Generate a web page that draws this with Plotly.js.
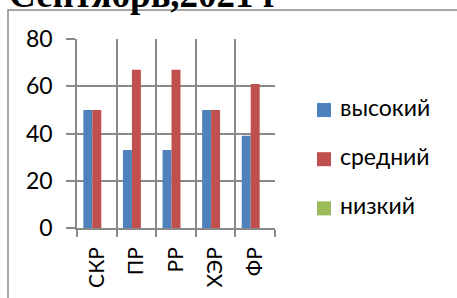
<!DOCTYPE html>
<html>
<head>
<meta charset="utf-8">
<script src="https://cdn.plot.ly/plotly-3.0.1.min.js"></script>
<style>html,body{margin:0;padding:0;background:#fff;}#chart{width:457px;height:298px;}</style>
</head>
<body>
<div id="chart"></div>
<script>
const titleText = "Сентябрь,2021 г";
const categories = ["СКР", "ПР", "РР", "ХЭР", "ФР"];
const seriesNames = ["высокий", "средний", "низкий"];
const highValues = [50, 33, 33, 50, 39];
const midValues = [50, 67, 67, 50, 61];
const lowValues = [0, 0, 0, 0, 0];
const yTicks = [0, 20, 40, 60, 80];

const colors = ["#4F81BD", "#C0504D", "#9BBB59"];
const allValues = [highValues, midValues, lowValues];
const font = "Lato, 'Open Sans', sans-serif";
const gray = "#898989";

// pixel helpers (plot area: x 77..275, y 39..228)
const W = 457, H = 298, L = 77, R = 275, T = 39, B = 228;
const px = x => (x - L) / (R - L);
const py = y => (B - y) / (B - T);

const traces = seriesNames.map((name, i) => ({
  type: "bar",
  name: name,
  x: categories,
  y: allValues[i],
  marker: {color: colors[i], line: {width: 0}},
  hoverinfo: "x+y+name"
}));

// manual legend (squares + labels) built from the series names/colours
const legRow0 = 110, legStep = 49.2, sq = 14, sqCx = 324, textX = 338;
const legendShapes = seriesNames.map((name, i) => {
  const cy = legRow0 + i * legStep;
  return {
    type: "rect", xref: "paper", yref: "paper",
    x0: px(sqCx - sq / 2), x1: px(sqCx + sq / 2),
    y0: py(cy + sq / 2), y1: py(cy - sq / 2),
    fillcolor: colors[i], line: {width: 0}
  };
});
const legendTexts = seriesNames.map((name, i) => ({
  text: name,
  xref: "paper", yref: "paper",
  x: px(textX), xanchor: "left",
  y: py(legRow0 + i * legStep - 3), yanchor: "middle",
  showarrow: false,
  font: {family: font, size: 23, color: "#000"}
}));

const layout = {
  width: W, height: H,
  margin: {l: L, r: W - R, t: T, b: H - B, pad: 0},
  paper_bgcolor: "#fff",
  plot_bgcolor: "#fff",
  barmode: "group",
  bargap: 0.32,
  bargroupgap: 0,
  showlegend: false,
  font: {family: font, color: "#000", size: 22},
  xaxis: {
    type: "category",
    tickson: "boundaries",
    showgrid: true, gridcolor: gray, gridwidth: 1.5,
    ticks: "outside", ticklen: 7, tickcolor: gray, tickwidth: 1.5,
    showline: true, linecolor: gray, linewidth: 1.5,
    tickangle: -90,
    ticklabelstandoff: 9,
    tickfont: {family: font, size: 21, color: "#000"},
    fixedrange: true
  },
  yaxis: {
    range: [0, 80],
    tickvals: yTicks,
    ticktext: yTicks.map(String),
    showgrid: true, gridcolor: gray, gridwidth: 1.5,
    zeroline: false,
    ticks: "outside", ticklen: 9, tickcolor: gray, tickwidth: 1.5,
    showline: true, linecolor: gray, linewidth: 1.5,
    ticklabelstandoff: 9,
    tickfont: {family: font, size: 23, color: "#000"},
    fixedrange: true
  },
  shapes: [{
    type: "rect", xref: "paper", yref: "paper",
    x0: px(8), x1: px(470), y0: py(310), y1: py(10),
    line: {color: "#8a8a8a", width: 1.5},
    fillcolor: "rgba(0,0,0,0)",
    layer: "below"
  }].concat(legendShapes),
  annotations: [{
    text: "<b>" + titleText + "</b>",
    xref: "paper", yref: "paper",
    x: px(7), xanchor: "left",
    y: py(17), yanchor: "bottom",
    showarrow: false,
    font: {family: "'Liberation Serif', 'Times New Roman', serif", size: 37, color: "#000"}
  }].concat(legendTexts)
};

Plotly.newPlot("chart", traces, layout, {displayModeBar: false});
</script>
</body>
</html>
